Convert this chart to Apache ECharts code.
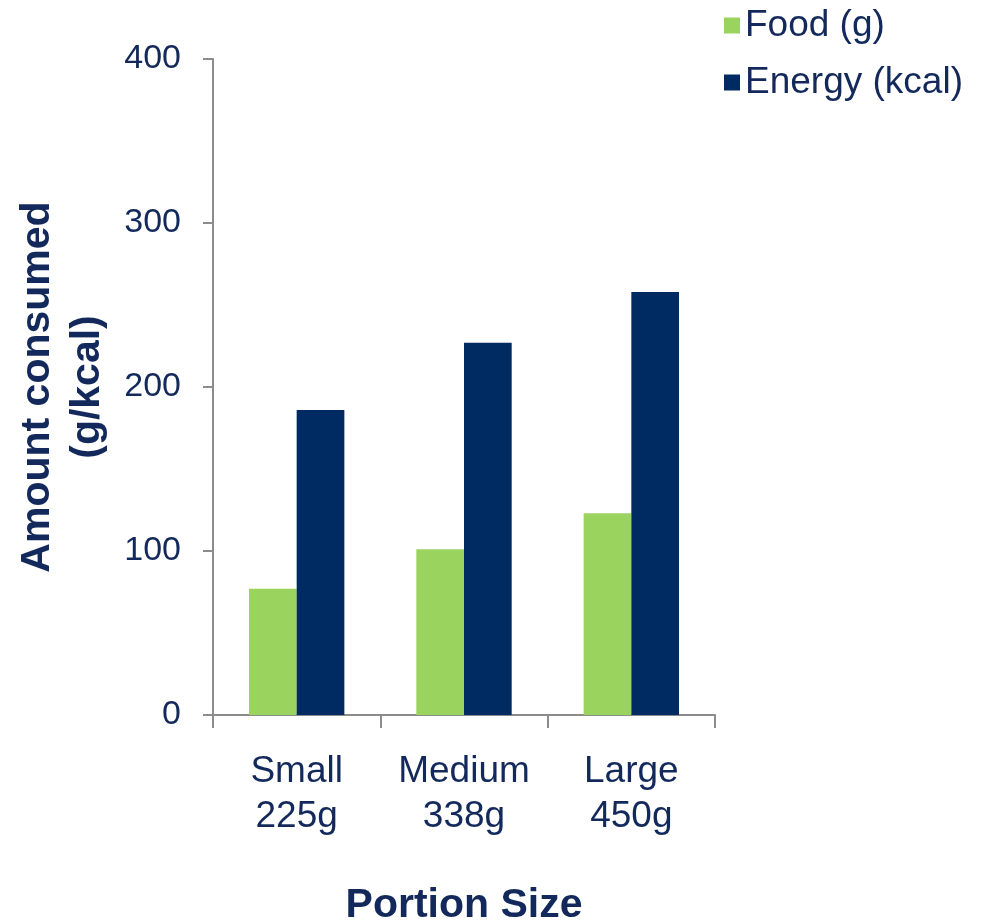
<!DOCTYPE html>
<html>
<head>
<meta charset="utf-8">
<script src="https://cdn.jsdelivr.net/npm/echarts@6/dist/echarts.min.js"></script>
<style>
  html, body { margin: 0; padding: 0; background: #fff; }
  #chart { width: 984px; height: 924px; }
</style>
</head>
<body>
<div id="chart"></div>
<script>
const categories = ["Small\n225g", "Medium\n338g", "Large\n450g"];
const foodValues = [77, 101, 123];
const energyValues = [186, 227, 258];
const seriesNames = ["Food (g)", "Energy (kcal)"];

const textColor = "#13295b";
const axisColor = "#8c8c8c";
const font = "Liberation Sans, Arial, sans-serif";

const chart = echarts.init(document.getElementById("chart"));

const option = {
  animation: false,
  textStyle: { fontFamily: font },
  legend: {
    orient: "vertical",
    left: 719,
    top: 2,
    itemWidth: 16,
    itemHeight: 16,
    itemGap: 20,
    icon: "rect",
    textStyle: { fontSize: 37, color: textColor, fontFamily: font },
    data: seriesNames,
  },
  grid: { left: 213, right: 269, top: 59, bottom: 209, outerBoundsMode: "none" },
  xAxis: {
    type: "category",
    data: categories,
    name: "Portion Size",
    nameLocation: "middle",
    nameGap: 170,
    nameTextStyle: { fontSize: 41, fontWeight: "bold", color: textColor, fontFamily: font },
    axisLine: { lineStyle: { color: axisColor, width: 2 } },
    axisTick: { show: true, interval: 0, length: 13, lineStyle: { color: axisColor, width: 2 } },
    axisLabel: {
      interval: 0,
      hideOverlap: false,
      fontSize: 37,
      color: textColor,
      lineHeight: 45,
      margin: 34,
      fontFamily: font,
    },
  },
  yAxis: {
    type: "value",
    min: 0,
    max: 400,
    interval: 100,
    name: "Amount consumed\n(g/kcal)",
    nameLocation: "middle",
    nameRotate: 90,
    nameGap: 100,
    nameTextStyle: { fontSize: 41, fontWeight: "bold", color: textColor, lineHeight: 50, fontFamily: font },
    axisLine: { show: true, lineStyle: { color: axisColor, width: 2 } },
    axisTick: { show: true, length: 10, lineStyle: { color: axisColor, width: 2 } },
    axisLabel: { fontSize: 34, color: textColor, margin: 32, fontFamily: font },
    splitLine: { show: false },
  },
  series: [
    {
      name: seriesNames[0],
      type: "bar",
      data: foodValues,
      barWidth: "28.5%",
      barGap: "0%",
      itemStyle: { color: "#9bd35f" },
    },
    {
      name: seriesNames[1],
      type: "bar",
      data: energyValues,
      barWidth: "28.5%",
      itemStyle: { color: "#002b62" },
    },
  ],
};

chart.setOption(option);
</script>
</body>
</html>
